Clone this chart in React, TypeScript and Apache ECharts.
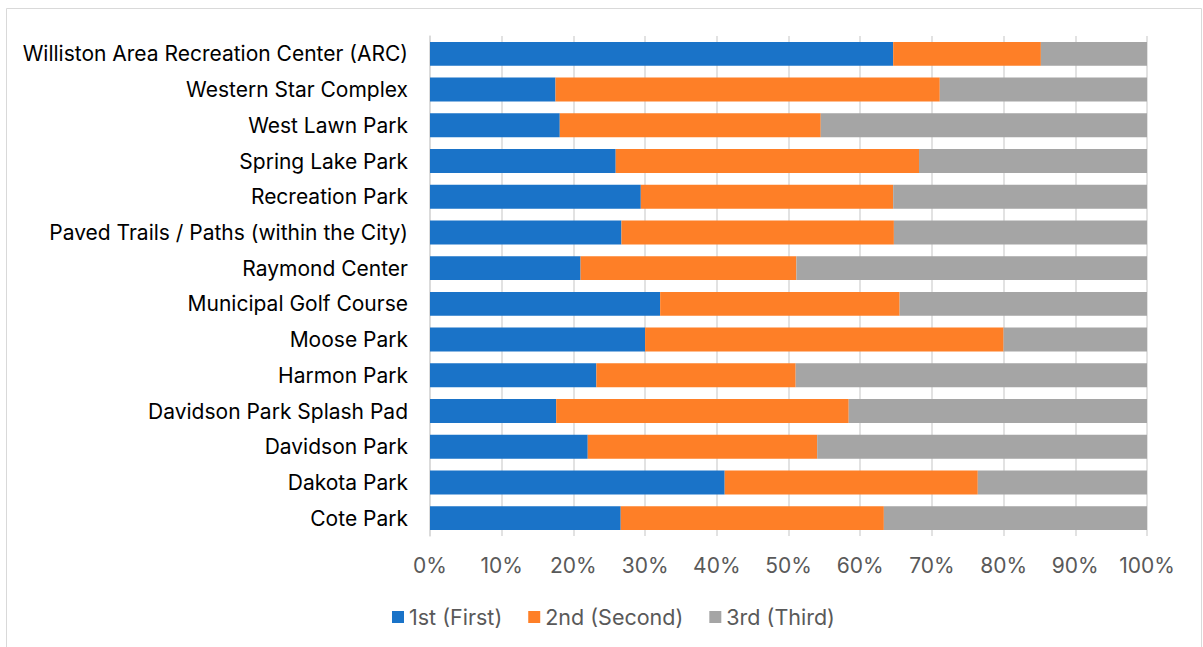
import React, { useEffect, useRef } from "react";
import * as echarts from "echarts";

const categories = [
  "Williston Area Recreation Center (ARC)",
  "Western Star Complex",
  "West Lawn Park",
  "Spring Lake Park",
  "Recreation Park",
  "Paved Trails / Paths (within the City)",
  "Raymond Center",
  "Municipal Golf Course",
  "Moose Park",
  "Harmon Park",
  "Davidson Park Splash Pad",
  "Davidson Park",
  "Dakota Park",
  "Cote Park",
];

const firstValues = [64.6, 17.5, 18.1, 25.9, 29.4, 26.7, 21.0, 32.1, 30.0, 23.2, 17.6, 22.0, 41.1, 26.6];
const secondValues = [20.6, 53.6, 36.4, 42.3, 35.2, 38.0, 30.1, 33.4, 50.0, 27.8, 40.8, 32.0, 35.3, 36.7];
const thirdValues = [14.8, 28.9, 45.5, 31.8, 35.4, 35.3, 48.9, 34.5, 20.0, 49.0, 41.6, 46.0, 23.6, 36.7];

const seriesNames = ["1st (First)", "2nd (Second)", "3rd (Third)"];
const seriesColors = ["#1A73C8", "#FE7F27", "#A5A5A5"];

const FONT = "Inter, 'Open Sans', sans-serif";

export default function App() {
  const ref = useRef<HTMLDivElement>(null);

  useEffect(() => {
    if (!ref.current) return;
    const chart = echarts.init(ref.current, null, { renderer: "svg" });
    const values = [firstValues, secondValues, thirdValues];
    chart.setOption({
      animation: false,
      backgroundColor: "#ffffff",
      graphic: [
        {
          type: "rect",
          shape: { x: 6.5, y: 8.5, width: 1195, height: 660 },
          style: { fill: "none", stroke: "#D9D9D9", lineWidth: 1 },
          silent: true,
        },
      ],
      grid: { left: 430, right: 56, top: 36, bottom: 111, containLabel: false },
      legend: {
        data: seriesNames,
        top: 601,
        left: 387,
        icon: "rect",
        itemWidth: 12,
        itemHeight: 12,
        itemGap: 26,
        textStyle: { fontFamily: FONT, fontSize: 21.5, color: "#595959" },
      },
      xAxis: {
        type: "value",
        min: 0,
        max: 100,
        interval: 10,
        axisLine: { show: false },
        axisTick: { show: false },
        axisLabel: {
          formatter: "{value}%",
          fontFamily: FONT,
          fontSize: 21,
          color: "#595959",
          margin: 19,
        },
        splitLine: { show: true, lineStyle: { color: "#D9D9D9", width: 1.5 } },
      },
      yAxis: {
        type: "category",
        inverse: true,
        data: categories,
        axisTick: { show: false },
        axisLine: { show: true, lineStyle: { color: "#D9D9D9", width: 1.5 } },
        axisLabel: {
          fontFamily: FONT,
          fontSize: 21,
          color: "#000000",
          margin: 22,
        },
      },
      series: seriesNames.map((name, i) => ({
        name,
        type: "bar",
        stack: "total",
        data: values[i],
        barCategoryGap: "33%",
        itemStyle: { color: seriesColors[i] },
      })),
    });
    return () => chart.dispose();
  }, []);

  return (
    <div
      ref={ref}
      style={{ position: "fixed", left: 0, top: 0, width: 1203, height: 647 }}
    />
  );
}
